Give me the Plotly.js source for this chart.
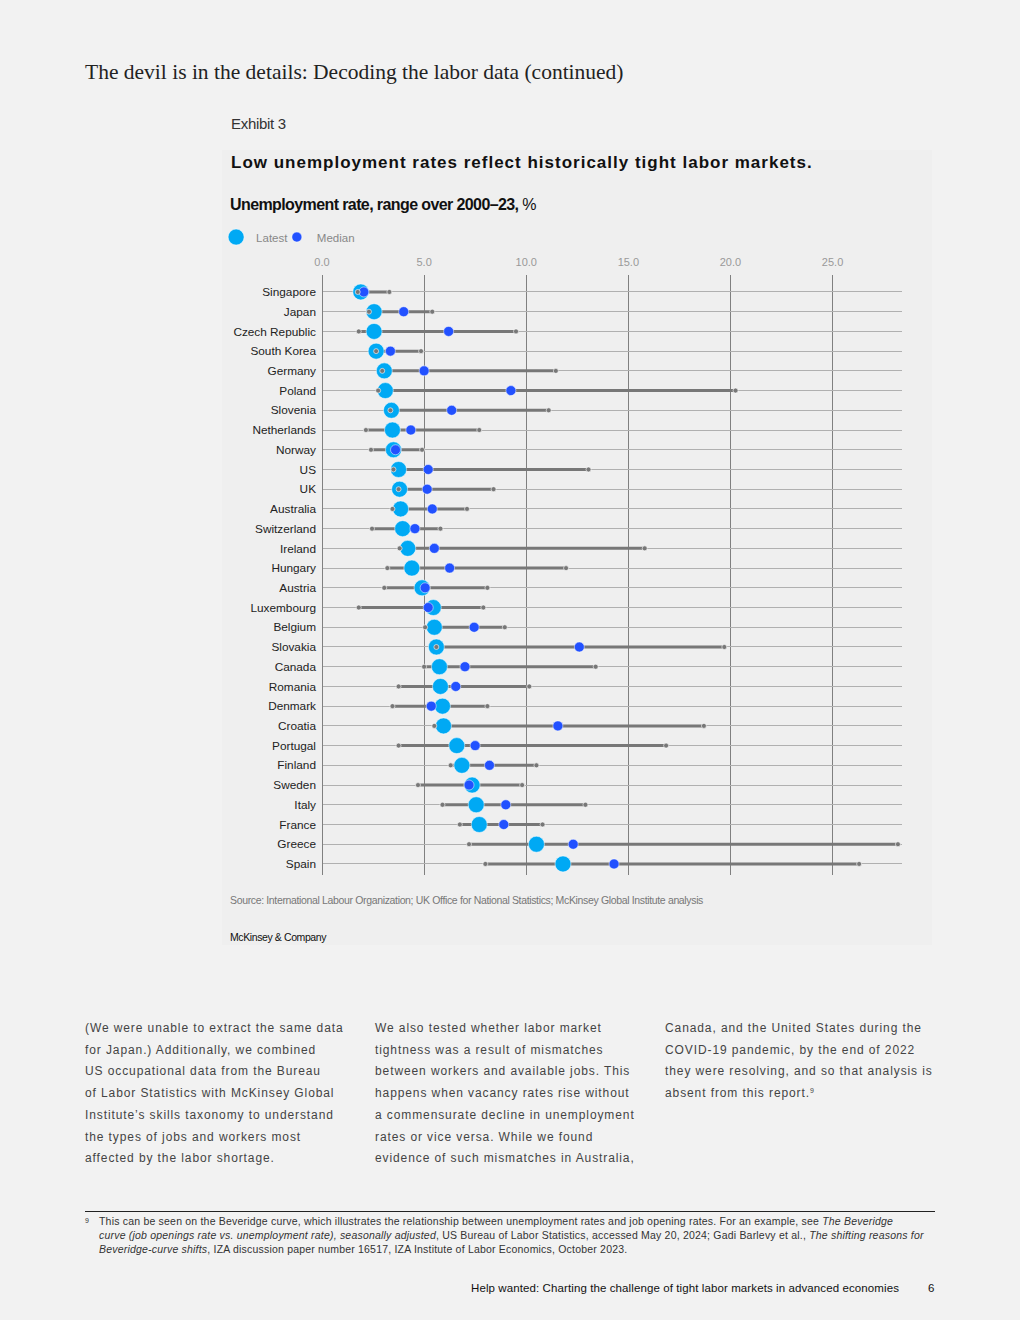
<!DOCTYPE html>
<html>
<head>
<meta charset="utf-8">
<script src="https://cdn.plot.ly/plotly-3.0.1.min.js"></script>
<style>
  html, body { margin:0; padding:0; background:#f2f2f2; }
  body { width:1020px; height:1320px; position:relative; overflow:hidden; font-family:"Liberation Sans", Arial, sans-serif; }
  .abs { position:absolute; white-space:nowrap; }
  #panel { position:absolute; left:222px; top:150px; width:710px; height:795px; background:#efefef; }
  #chart { position:absolute; left:200px; top:225px; width:732px; height:670px; }
  .body p { margin:0; line-height:21.7px; font-size:12px; letter-spacing:0.9px; color:#444; }
  .fn { font-size:10.5px; line-height:14px; color:#333; letter-spacing:0.2px; }
</style>
</head>
<body>
<div class="abs" style="left:85px; top:60px; font-family:'Liberation Serif','DejaVu Serif',serif; font-size:21.5px; color:#222;">The devil is in the details: Decoding the labor data (continued)</div>
<div id="panel"></div>
<div class="abs" style="left:231px; top:115px; font-size:15px; color:#333; letter-spacing:-0.3px;">Exhibit 3</div>
<div class="abs" style="left:231px; top:153px; font-size:17px; font-weight:bold; letter-spacing:1px; color:#111;">Low unemployment rates reflect historically tight labor markets.</div>
<div class="abs" style="left:230px; top:196px; font-size:16px; color:#111; letter-spacing:-0.6px;"><b>Unemployment rate, range over 2000–23,</b> %</div>
<div id="chart"></div>
<div class="abs" style="left:230px; top:894px; font-size:10.5px; color:#777; letter-spacing:-0.35px;">Source: International Labour Organization; UK Office for National Statistics; McKinsey Global Institute analysis</div>
<div class="abs" style="left:230px; top:931px; font-size:10.5px; color:#111; letter-spacing:-0.4px;">McKinsey &amp; Company</div>

<div class="abs body" style="left:85px; top:1018px;">
<p>(We were unable to extract the same data</p>
<p>for Japan.) Additionally, we combined</p>
<p>US occupational data from the Bureau</p>
<p>of Labor Statistics with McKinsey Global</p>
<p>Institute’s skills taxonomy to understand</p>
<p>the types of jobs and workers most</p>
<p>affected by the labor shortage.</p>
</div>
<div class="abs body" style="left:375px; top:1018px;">
<p>We also tested whether labor market</p>
<p>tightness was a result of mismatches</p>
<p>between workers and available jobs. This</p>
<p>happens when vacancy rates rise without</p>
<p>a commensurate decline in unemployment</p>
<p>rates or vice versa. While we found</p>
<p>evidence of such mismatches in Australia,</p>
</div>
<div class="abs body" style="left:665px; top:1018px;">
<p>Canada, and the United States during the</p>
<p>COVID-19 pandemic, by the end of 2022</p>
<p>they were resolving, and so that analysis is</p>
<p>absent from this report.<span style="font-size:7px; line-height:0; position:relative; top:-4px;">9</span></p>
</div>

<div class="abs" style="left:85px; top:1211px; width:850px; height:1px; background:#222;"></div>
<div class="abs fn" style="left:85px; top:1214px; font-size:7px;">9</div>
<div class="abs fn" style="left:99px; top:1214px;">
This can be seen on the Beveridge curve, which illustrates the relationship between unemployment rates and job opening rates. For an example, see <i>The Beveridge</i><br>
<i>curve (job openings rate vs. unemployment rate), seasonally adjusted</i>, US Bureau of Labor Statistics, accessed May 20, 2024; Gadi Barlevy et al., <i>The shifting reasons for</i><br>
<i>Beveridge-curve shifts</i>, IZA discussion paper number 16517, IZA Institute of Labor Economics, October 2023.
</div>
<div class="abs" style="right:121px; top:1282px; font-size:11.5px; color:#111; letter-spacing:0.1px;">Help wanted: Charting the challenge of tight labor markets in advanced economies</div>
<div class="abs" style="left:928px; top:1282px; font-size:11.5px; color:#111;">6</div>

<script>
const countries = ["Singapore","Japan","Czech Republic","South Korea","Germany","Poland","Slovenia","Netherlands","Norway","US","UK","Australia","Switzerland","Ireland","Hungary","Austria","Luxembourg","Belgium","Slovakia","Canada","Romania","Denmark","Croatia","Portugal","Finland","Sweden","Italy","France","Greece","Spain"];
const latest = [1.9, 2.55, 2.55, 2.65, 3.05, 3.1, 3.4, 3.45, 3.5, 3.75, 3.8, 3.85, 3.95, 4.2, 4.4, 4.9, 5.45, 5.5, 5.6, 5.75, 5.8, 5.9, 5.95, 6.6, 6.85, 7.35, 7.55, 7.7, 10.5, 11.8];
const median = [2.05, 4.0, 6.2, 3.35, 5.0, 9.25, 6.35, 4.35, 3.6, 5.2, 5.15, 5.4, 4.55, 5.5, 6.25, 5.05, 5.2, 7.45, 12.6, 7.0, 6.55, 5.35, 11.55, 7.5, 8.2, 7.2, 9.0, 8.9, 12.3, 14.3];
const minVals = [1.75, 2.3, 1.8, 2.65, 2.95, 2.75, 3.35, 2.15, 2.4, 3.5, 3.75, 3.45, 2.45, 3.8, 3.2, 3.05, 1.8, 5.05, 5.6, 5.0, 3.75, 3.45, 5.5, 3.75, 6.3, 4.7, 5.9, 6.75, 7.2, 8.0];
const maxVals = [3.3, 5.4, 9.5, 4.85, 11.45, 20.25, 11.1, 7.7, 4.9, 13.05, 8.4, 7.1, 5.8, 15.8, 11.95, 8.1, 7.9, 8.95, 19.7, 13.4, 10.15, 8.1, 18.7, 16.85, 10.5, 9.8, 12.9, 10.8, 28.2, 26.3];
const tickVals = [0, 5, 10, 15, 20, 25];
const tickText = ["0.0", "5.0", "10.0", "15.0", "20.0", "25.0"];

const rx = [], ry = [];
countries.forEach((c, i) => { rx.push(minVals[i], maxVals[i], null); ry.push(c, c, null); });
const ex = [], ey = [];
countries.forEach((c, i) => { ex.push(minVals[i], maxVals[i]); ey.push(c, c); });

const traces = [
  { type:"scatter", mode:"lines", x:rx, y:ry, line:{color:"#777777", width:3}, showlegend:false, hoverinfo:"skip" },
  { type:"scatter", mode:"markers", name:"Latest", x:latest, y:countries, legend:"legend",
    marker:{color:"#00a9f4", size:16, line:{color:"#ffffff", width:0.5}} },
  { type:"scatter", mode:"markers", name:"Median", x:median, y:countries, legend:"legend2",
    marker:{color:"#2251ff", size:10, line:{color:"#ffffff", width:0.5}} },
  { type:"scatter", mode:"markers", x:ex, y:ey, showlegend:false,
    marker:{color:"#777777", size:5, line:{color:"#ffffff", width:0.6}} }
];

const legendFont = {size:11.5, color:"#888", family:"Liberation Sans, Arial, sans-serif"};
const layout = {
  width:732, height:670,
  margin:{l:122, r:30, t:50, b:20},
  paper_bgcolor:"rgba(0,0,0,0)", plot_bgcolor:"rgba(0,0,0,0)",
  font:{family:"Liberation Sans, Arial, sans-serif", size:11.8, color:"#222"},
  xaxis:{ side:"top", range:[0, 28.4], tickvals:tickVals, ticktext:tickText,
    showgrid:true, gridcolor:"#808080", gridwidth:1,
    zeroline:true, zerolinecolor:"#808080", zerolinewidth:1,
    showline:false, ticks:"", ticklabelstandoff:6, tickfont:{size:11, color:"#999999"}, fixedrange:true },
  yaxis:{ type:"category", categoryorder:"array", categoryarray:countries,
    range:[29.56, -0.86], showgrid:true, gridcolor:"#b0b0b0", gridwidth:1,
    zeroline:false, showline:false, ticks:"", ticklabelstandoff:5, tickfont:{size:11.8, color:"#222"}, fixedrange:true },
  legend:{ orientation:"h", xref:"container", yref:"container", x:0.022, y:0.982, xanchor:"left", yanchor:"middle",
    font:legendFont, itemwidth:30, bgcolor:"rgba(0,0,0,0)" },
  legend2:{ orientation:"h", xref:"container", yref:"container", x:0.105, y:0.982, xanchor:"left", yanchor:"middle",
    font:legendFont, itemwidth:30, bgcolor:"rgba(0,0,0,0)" },
  showlegend:true
};

Plotly.newPlot("chart", traces, layout, {displayModeBar:false, staticPlot:true});
</script>
</body>
</html>
